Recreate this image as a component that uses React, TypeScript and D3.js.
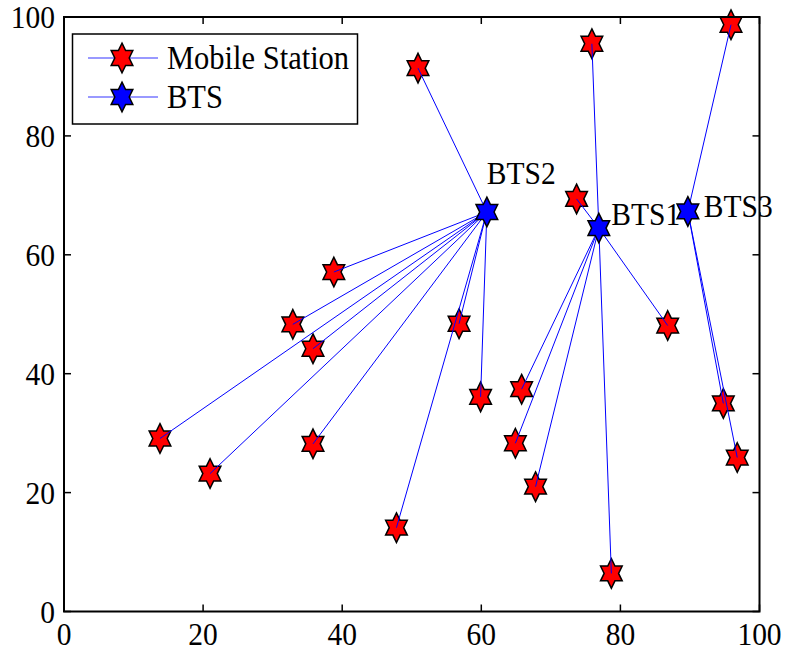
import React from "react";
import * as d3 from "d3";

const btsNames = ["BTS1", "BTS2", "BTS3"];
const btsX = [76.9, 60.8, 89.7];
const btsY = [64.5, 67.2, 67.3];
const btsLabelX = [78.7, 60.8, 92.0];
const btsLabelY = [65.0, 71.9, 66.3];

const msX = [13.8, 21.0, 32.9, 35.8, 38.8, 35.8, 47.8, 56.8, 59.9, 50.9, 73.7, 75.9, 65.8, 64.9, 67.8, 78.7, 86.8, 95.9, 94.8, 96.8];
const msY = [29.1, 23.2, 48.3, 44.2, 57.1, 28.2, 14.1, 48.4, 36.1, 91.4, 69.4, 95.5, 37.4, 28.3, 21.0, 6.4, 48.1, 98.7, 35.0, 25.9];
const msBts = [1, 1, 1, 1, 1, 1, 1, 1, 1, 1, 0, 0, 0, 0, 0, 0, 0, 2, 2, 2];

const xTicks = [0, 20, 40, 60, 80, 100];
const yTicks = [0, 20, 40, 60, 80, 100];
const legendLabels = ["Mobile Station", "BTS"];
const legendColors = ["#ff0000", "#0000ff"];

const W = 785;
const H = 652;
const left = 64;
const right = 759.5;
const top = 17;
const bottom = 611.5;
const FONT = "'Liberation Serif', 'Times New Roman', serif";
const FS = 29.5;
const SY = 1.08;

function starPath(cx: number, cy: number, rx: number, ry: number): string {
  const pts: [number, number][] = [];
  for (let i = 0; i < 12; i++) {
    const a = (-90 + i * 30) * (Math.PI / 180);
    const k = i % 2 === 0 ? 1 : 1 / Math.sqrt(3);
    pts.push([cx + rx * k * Math.cos(a), cy + ry * k * Math.sin(a)]);
  }
  return d3.line()(pts.concat([pts[0]])) + "Z";
}

const RX = 12.5;
const RY = 14.8;

function T(props: { x: number; y: number; anchor?: string; size?: number; children: React.ReactNode }) {
  return (
    <text
      transform={`translate(${props.x},${props.y}) scale(1,${SY})`}
      textAnchor={props.anchor || "start"}
      fontFamily={FONT}
      fontSize={props.size || FS}
      fill="#000"
    >
      {props.children}
    </text>
  );
}

export default function App() {
  const x = d3.scaleLinear().domain([0, 100]).range([left, right]);
  const y = d3.scaleLinear().domain([0, 100]).range([bottom, top]);
  const tl = 7;

  return (
    <svg
      width={W}
      height={H}
      style={{ position: "absolute", left: 0, top: 0, background: "#fff" }}
    >
      <rect x={0} y={0} width={W} height={H} fill="#fff" />
      {msX.map((v, i) => (
        <path key={"ms" + i} d={starPath(x(v), y(msY[i]), RX, RY)} fill="#ff0000" stroke="#000" strokeWidth={1.5} />
      ))}
      {msX.map((v, i) => (
        <line
          key={"ln" + i}
          x1={x(v)}
          y1={y(msY[i])}
          x2={x(btsX[msBts[i]])}
          y2={y(btsY[msBts[i]])}
          stroke="#0000ff"
          strokeWidth={1}
        />
      ))}
      {btsX.map((v, i) => (
        <path key={"bts" + i} d={starPath(x(v), y(btsY[i]), RX, RY)} fill="#0000ff" stroke="#000" strokeWidth={1.5} />
      ))}
      {btsNames.map((n, i) => (
        <T key={"bl" + i} x={x(btsLabelX[i])} y={y(btsLabelY[i])}>
          {n}
        </T>
      ))}
      <rect x={left} y={top} width={right - left} height={bottom - top} fill="none" stroke="#000" strokeWidth={2} />
      {xTicks.map((t) => (
        <g key={"xt" + t}>
          <line x1={x(t)} x2={x(t)} y1={bottom} y2={bottom - tl} stroke="#000" strokeWidth={1.5} />
          <line x1={x(t)} x2={x(t)} y1={top} y2={top + tl} stroke="#000" strokeWidth={1.5} />
          <T x={x(t)} y={645} anchor="middle">
            {t}
          </T>
        </g>
      ))}
      {yTicks.map((t) => (
        <g key={"yt" + t}>
          <line x1={left} x2={left + tl} y1={y(t)} y2={y(t)} stroke="#000" strokeWidth={1.5} />
          <line x1={right} x2={right - tl} y1={y(t)} y2={y(t)} stroke="#000" strokeWidth={1.5} />
          <T x={55} y={y(t) + 11} anchor="end">
            {t}
          </T>
        </g>
      ))}
      <rect x={72.5} y={34} width={285} height={90} fill="#fff" stroke="#000" strokeWidth={1.5} />
      {legendLabels.map((lab, i) => {
        const cy = 58 + i * 39;
        return (
          <g key={"lg" + i}>
            <line x1={88} x2={158} y1={cy} y2={cy} stroke="#7777ff" strokeWidth={1.5} />
            <path d={starPath(122, cy, RX, RY)} fill={legendColors[i]} stroke="#000" strokeWidth={1.5} />
            <T x={167} y={cy + 11} size={30.5}>
              {lab}
            </T>
          </g>
        );
      })}
    </svg>
  );
}
